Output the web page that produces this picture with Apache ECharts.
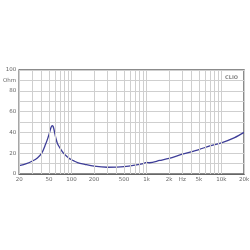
<!DOCTYPE html>
<html><head><meta charset="utf-8">
<script src="https://cdn.jsdelivr.net/npm/echarts@6/dist/echarts.min.js"></script>
<style>html,body{margin:0;padding:0;background:#fff}#c{width:250px;height:250px}</style>
</head><body><div id="c"></div>
<script>
const freqs = [20,25,30,35,40,45,48,50,52,53.5,55,56.5,58,60,62,65,70,78,87,95,106,120,150,200,300,400,500,700,900,1000,1100,1500,2000,3000,5000,7000,10000,15000,20000];
const ohms  = [8,10,12.5,15.5,20,28.5,34,38,42.5,45.2,46.5,46,43.5,38.5,34,29,25,20,16.7,14.5,12.8,11,9.3,7.5,6.5,6.6,7,8.5,10,11.2,10.8,13,15,19,23.5,27,30,35,40];
const xGrid = [20,30,40,50,60,70,80,90,100,200,300,400,500,600,700,800,900,1000,2000,3000,4000,5000,6000,7000,8000,9000,10000,20000];
const xLabels = {20:'20',50:'50',100:'100',200:'200',500:'500',1000:'1k',2000:'2k',3000:'Hz',5000:'5k',10000:'10k',20000:'20k'};
const yLabels = {0:'0',20:'20',40:'40',60:'60',80:'80',90:'Ohm',100:'100'};
const chartTitle = 'CLIO';

const chart = echarts.init(document.getElementById('c'));
chart.setOption({
  animation:false,
  backgroundColor:'#fff',
  title:{text:chartTitle,right:7,top:70,textStyle:{fontSize:5,fontWeight:'bold',color:'#888',fontFamily:'DejaVu Sans'}},
  grid:{left:19,right:6,top:70,bottom:76,show:true,borderColor:'#666',borderWidth:1.5},
  xAxis:{type:'log',logBase:10,min:20,max:20000,
    axisLine:{show:true,lineStyle:{color:'#666',width:1}},axisTick:{show:false},
    axisLabel:{show:false},splitLine:{show:false},minorSplitLine:{show:false}},
  yAxis:{type:'value',min:0,max:100,interval:10,
    axisLine:{show:true,lineStyle:{color:'#666',width:1}},axisTick:{show:false},
    axisLabel:{fontSize:5.5,color:'#666',margin:3,fontFamily:'DejaVu Sans',formatter:v=>yLabels[v]!==undefined?yLabels[v]:''},
    splitLine:{show:true,lineStyle:{color:'#cfcfcf',width:1}}},
  series:[
    {type:'line',data:[],z:1,silent:true,
     markLine:{silent:true,symbol:'none',animation:false,
       lineStyle:{color:'#cfcfcf',width:1,type:'solid'},
       label:{show:true,position:'start',distance:3,fontSize:5.5,color:'#666',fontFamily:'DejaVu Sans',
         formatter:p=>xLabels[p.value]||''},
       emphasis:{disabled:true},
       data:xGrid.map(v=>({xAxis:v}))}},
    {type:'line',z:3,data:freqs.map((f,i)=>[f,ohms[i]]),smooth:0.3,showSymbol:false,
     lineStyle:{color:'#3e3e98',width:1.3}}
  ]
});
</script></body></html>
